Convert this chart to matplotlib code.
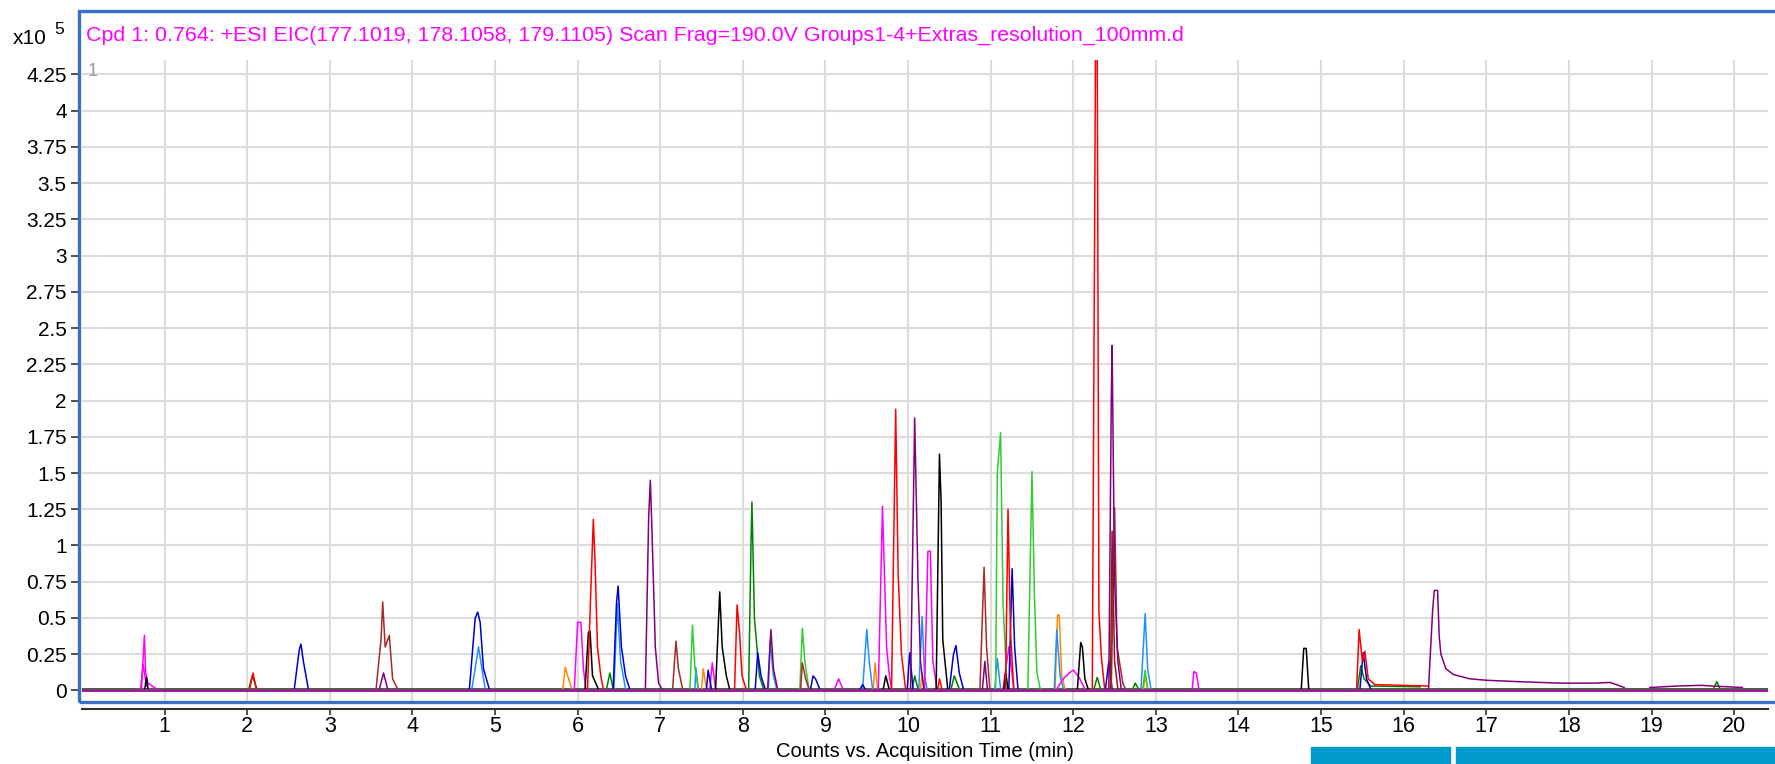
import matplotlib
matplotlib.use("Agg")
import numpy as np
import matplotlib.pyplot as plt
from matplotlib.patches import Rectangle

plt.rcParams['font.family'] = ['Liberation Sans', 'DejaVu Sans']

title = ("Cpd 1: 0.764: +ESI EIC(177.1019, 178.1058, 179.1105) Scan Frag=190.0V "
         "Groups1-4+Extras_resolution_100mm.d")

# peak outlines: (time in min, counts in x10^5)
magenta_peaks = [
    [(0.72, 0.01), (0.755, 0.38), (0.77, 0.12), (0.8, 0.05), (0.9, 0.01)],
    [(0.71, 0.01), (0.74, 0.18), (0.78, 0.03)],
    [(5.96, 0.01), (6.0, 0.47), (6.04, 0.47), (6.07, 0.15), (6.1, 0.01)],
    [(7.6, 0.01), (7.63, 0.19), (7.67, 0.01)],
    [(9.11, 0.01), (9.16, 0.08), (9.21, 0.01)],
    [(9.64, 0.01), (9.69, 1.27), (9.74, 0.3), (9.77, 0.12), (9.8, 0.01)],
    [(10.2, 0.01), (10.24, 0.96), (10.27, 0.96), (10.3, 0.2), (10.35, 0.01)],
    [(11.15, 0.01), (11.22, 0.3), (11.28, 0.01)],
    [(11.8, 0.01), (11.88, 0.08), (11.95, 0.12), (12.0, 0.14), (12.06, 0.1), (12.14, 0.01)],
    [(13.44, 0.01), (13.46, 0.13), (13.49, 0.12), (13.52, 0.01)],
]
green_peaks = [
    [(2.02, 0.01), (2.06, 0.1), (2.12, 0.01)],
    [(6.35, 0.01), (6.39, 0.12), (6.43, 0.01)],
    [(8.07, 0.01), (8.1, 1.05), (8.11, 1.3), (8.14, 0.5), (8.2, 0.1), (8.25, 0.01)],
    [(10.05, 0.01), (10.08, 0.1), (10.12, 0.01)],
    [(10.52, 0.01), (10.56, 0.1), (10.62, 0.01)],
    [(12.25, 0.01), (12.29, 0.09), (12.33, 0.01)],
    [(12.72, 0.01), (12.75, 0.05), (12.79, 0.01)],
    [(15.44, 0.01), (15.48, 0.17), (15.52, 0.08), (15.6, 0.03), (16.2, 0.025)],
    [(19.75, 0.01), (19.79, 0.06), (19.83, 0.01)],
]
lime_peaks = [
    [(7.36, 0.01), (7.39, 0.45), (7.42, 0.15), (7.46, 0.01)],
    [(8.69, 0.01), (8.72, 0.43), (8.75, 0.2), (8.8, 0.01)],
    [(11.06, 0.01), (11.08, 1.5), (11.12, 1.78), (11.15, 0.6), (11.2, 0.01)],
    [(11.45, 0.01), (11.5, 1.51), (11.53, 0.65), (11.56, 0.12), (11.6, 0.01)],
    [(12.84, 0.01), (12.87, 0.14), (12.9, 0.01)],
]
blue_peaks = [
    [(2.57, 0.01), (2.63, 0.28), (2.65, 0.32), (2.68, 0.2), (2.74, 0.01)],
    [(4.69, 0.01), (4.76, 0.5), (4.79, 0.54), (4.82, 0.47), (4.86, 0.15), (4.93, 0.01)],
    [(6.43, 0.01), (6.47, 0.6), (6.49, 0.72), (6.53, 0.3), (6.58, 0.1), (6.63, 0.01)],
    [(7.56, 0.01), (7.58, 0.14), (7.62, 0.01)],
    [(8.15, 0.01), (8.18, 0.26), (8.22, 0.1), (8.27, 0.01)],
    [(8.82, 0.01), (8.85, 0.1), (8.88, 0.08), (8.93, 0.01)],
    [(9.42, 0.01), (9.45, 0.04), (9.48, 0.01)],
    [(9.99, 0.01), (10.02, 0.26), (10.06, 0.01)],
    [(10.5, 0.01), (10.55, 0.25), (10.58, 0.31), (10.62, 0.12), (10.67, 0.01)],
    [(11.22, 0.01), (11.26, 0.84), (11.29, 0.3), (11.33, 0.01)],
    [(12.39, 0.01), (12.43, 0.2), (12.47, 0.01)],
    [(15.47, 0.01), (15.51, 0.26), (15.55, 0.08), (15.6, 0.01)],
]
brown_peaks = [
    [(3.56, 0.01), (3.62, 0.35), (3.64, 0.61), (3.67, 0.3), (3.72, 0.38), (3.76, 0.08), (3.82, 0.01)],
    [(7.15, 0.01), (7.19, 0.34), (7.22, 0.15), (7.27, 0.01)],
    [(8.7, 0.01), (8.72, 0.19), (8.76, 0.08), (8.8, 0.01)],
    [(10.87, 0.01), (10.92, 0.85), (10.95, 0.3), (10.99, 0.01)],
    [(12.46, 0.01), (12.5, 1.26), (12.53, 0.3), (12.6, 0.05), (12.63, 0.01)],
]
maroon_peaks = [
    [(12.45, 0.01), (12.47, 1.1), (12.5, 0.2), (12.54, 0.01)],
]
red_peaks = [
    [(2.03, 0.01), (2.07, 0.12), (2.11, 0.01)],
    [(6.12, 0.01), (6.16, 0.7), (6.19, 1.18), (6.21, 0.9), (6.24, 0.3), (6.28, 0.1), (6.31, 0.01)],
    [(7.9, 0.01), (7.93, 0.59), (7.96, 0.4), (7.99, 0.1), (8.04, 0.01)],
    [(9.8, 0.01), (9.85, 1.94), (9.88, 0.8), (9.92, 0.25), (9.97, 0.01)],
    [(10.36, 0.01), (10.38, 0.08), (10.41, 0.01)],
    [(11.18, 0.01), (11.21, 1.25), (11.24, 0.4), (11.28, 0.01)],
    [(12.23, 0.01), (12.27, 4.5), (12.29, 4.5), (12.31, 0.55), (12.34, 0.23), (12.38, 0.01)],
    [(15.43, 0.01), (15.46, 0.42), (15.5, 0.2), (15.53, 0.27), (15.57, 0.08), (15.65, 0.04), (16.3, 0.03)],
]
black_peaks = [
    [(0.76, 0.01), (0.78, 0.09), (0.8, 0.01)],
    [(6.09, 0.01), (6.13, 0.4), (6.15, 0.41), (6.18, 0.1), (6.22, 0.05), (6.25, 0.01)],
    [(7.67, 0.01), (7.72, 0.68), (7.75, 0.3), (7.8, 0.1), (7.84, 0.01)],
    [(9.7, 0.01), (9.73, 0.1), (9.77, 0.01)],
    [(10.34, 0.01), (10.38, 1.63), (10.4, 1.3), (10.42, 0.35), (10.48, 0.01)],
    [(11.16, 0.01), (11.18, 0.12), (11.21, 0.01)],
    [(12.05, 0.01), (12.09, 0.33), (12.11, 0.3), (12.14, 0.08), (12.18, 0.01)],
    [(14.76, 0.01), (14.79, 0.29), (14.82, 0.29), (14.85, 0.01)],
]
purple_peaks = [
    [(3.6, 0.01), (3.65, 0.12), (3.7, 0.01)],
    [(6.82, 0.01), (6.86, 1.2), (6.88, 1.45), (6.9, 1.1), (6.94, 0.3), (6.98, 0.05), (7.02, 0.01)],
    [(8.3, 0.01), (8.34, 0.42), (8.37, 0.15), (8.42, 0.01)],
    [(10.03, 0.01), (10.08, 1.88), (10.12, 0.76), (10.15, 0.2), (10.19, 0.01)],
    [(10.9, 0.01), (10.93, 0.2), (10.96, 0.01)],
    [(12.43, 0.01), (12.46, 2.0), (12.47, 2.38), (12.5, 0.76), (12.54, 0.2), (12.58, 0.01)],
    [(16.3, 0.01), (16.35, 0.55), (16.37, 0.69), (16.41, 0.69), (16.43, 0.37), (16.45, 0.25),
     (16.51, 0.15), (16.6, 0.11), (16.8, 0.08), (17.0, 0.07), (17.4, 0.06), (17.9, 0.05),
     (18.3, 0.05), (18.5, 0.055), (18.67, 0.02)],
    [(18.98, 0.02), (19.3, 0.03), (19.6, 0.035), (19.74, 0.03), (20.1, 0.02)],
]
orange_peaks = [
    [(5.82, 0.01), (5.85, 0.16), (5.88, 0.1), (5.93, 0.01)],
    [(7.5, 0.01), (7.52, 0.15), (7.56, 0.01)],
    [(9.58, 0.01), (9.6, 0.19), (9.63, 0.01)],
    [(10.15, 0.01), (10.17, 0.12), (10.2, 0.01)],
    [(11.78, 0.01), (11.81, 0.52), (11.83, 0.52), (11.86, 0.1), (11.9, 0.01)],
    [(12.85, 0.01), (12.87, 0.1), (12.9, 0.01)],
]
dodger_peaks = [
    [(4.72, 0.01), (4.8, 0.3), (4.88, 0.01)],
    [(6.44, 0.01), (6.48, 0.6), (6.52, 0.2), (6.58, 0.01)],
    [(7.42, 0.01), (7.43, 0.16), (7.46, 0.01)],
    [(8.31, 0.01), (8.33, 0.34), (8.37, 0.1), (8.41, 0.01)],
    [(9.45, 0.01), (9.5, 0.42), (9.53, 0.2), (9.57, 0.01)],
    [(10.13, 0.01), (10.17, 0.51), (10.2, 0.1), (10.23, 0.01)],
    [(11.05, 0.01), (11.08, 0.22), (11.12, 0.01)],
    [(11.77, 0.01), (11.8, 0.42), (11.84, 0.1), (11.88, 0.01)],
    [(12.82, 0.01), (12.87, 0.53), (12.9, 0.15), (12.94, 0.01)],
]

time_range = [0, 20.41]
x_ticks = list(range(1, 21))
y_ticks = np.arange(0, 4.26, 0.25)

fig = plt.figure(figsize=(17.75, 7.64), dpi=100)
ax = fig.add_axes([82 / 1775, 62 / 764, 1686 / 1775, 642 / 764])

traces = [
    ('#ff8c00', orange_peaks), ('#1e90ff', dodger_peaks), ('#ff00ff', magenta_peaks),
    ('#33cc33', lime_peaks), ('#008000', green_peaks), ('#0000cd', blue_peaks),
    ('#a52a2a', brown_peaks), ('#000000', black_peaks), ('#ff0000', red_peaks),
    ('#8b1a1a', maroon_peaks), ('#800080', purple_peaks),
]

# baselines
ax.plot(time_range, [0.012, 0.012], color='#008000', lw=1.3, zorder=2)
for col, peaks in traces:
    for pk in peaks:
        t = [p[0] for p in pk]
        v = [p[1] for p in pk]
        ax.plot(t, v, color=col, lw=1.1, zorder=3)
ax.plot(time_range, [0, 0], color='#9b1f9b', lw=2.2, zorder=4)

ax.set_xlim(time_range)
ax.set_ylim(-0.08, 4.35)
ax.set_xticks(x_ticks)
ax.set_yticks(y_ticks)
ax.set_yticklabels(['%g' % v for v in y_ticks])
ax.grid(True, color='#dcdcdc', lw=1.5, zorder=0)
ax.set_axisbelow(True)

for s in ['top', 'right']:
    ax.spines[s].set_visible(False)
ax.spines['left'].set_position(('outward', 3))
ax.spines['left'].set_visible(False)
ax.spines['bottom'].set_position(('outward', 5))
ax.spines['bottom'].set_color('#333333')
ax.spines['bottom'].set_linewidth(1.5)
ax.tick_params(axis='y', length=5, width=1.2, color='#333333', pad=3, labelsize=15)
ax.tick_params(axis='x', length=4, width=1.2, color='#333333', pad=1, labelsize=15.5)
ax.set_xlabel('Counts vs. Acquisition Time (min)', fontsize=14.5, labelpad=4)

# frame and header
fig.patches.append(Rectangle((79 / 1775, 62 / 764), 1.1, (753 - 62) / 764,
                             transform=fig.transFigure, fill=False,
                             edgecolor='#3a70c8', lw=2.4))
fig.text(86 / 1775, 1 - 35 / 764, title, color='#ff00ff', fontsize=15.4,
         ha='left', va='center')
fig.text(13 / 1775, 1 - 38 / 764, 'x10', fontsize=15, ha='left', va='center')
fig.text(54 / 1775, 1 - 30 / 764, '5', fontsize=12.5, ha='left', va='center')
fig.text(88 / 1775, 1 - 71 / 764, '1', color='#999999', fontsize=13, ha='left', va='center')

# scroll bars at the bottom
fig.patches.append(Rectangle((1311 / 1775, 0), 139 / 1775, 17 / 764,
                             transform=fig.transFigure, color='#0099cc'))
fig.patches.append(Rectangle((1456 / 1775, 0), 320 / 1775, 17 / 764,
                             transform=fig.transFigure, color='#0099cc'))

fig.savefig('out.png', dpi=100)
